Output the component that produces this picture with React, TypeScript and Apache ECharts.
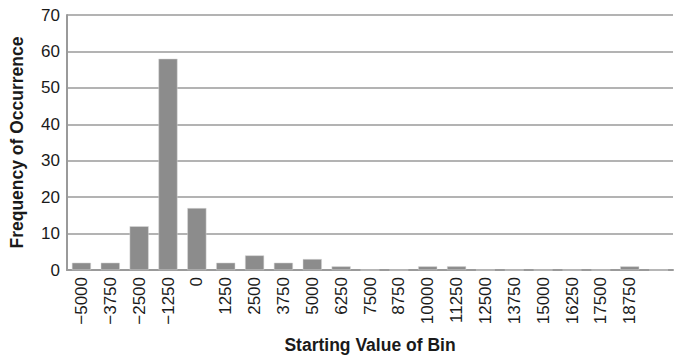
import React, { useEffect, useRef } from "react";
import * as echarts from "echarts";

const binLabels = [
  "−5000", "−3750", "−2500", "−1250", "0", "1250", "2500", "3750", "5000", "6250",
  "7500", "8750", "10000", "11250", "12500", "13750", "15000", "16250", "17500", "18750", "",
];
const frequencies = [2, 2, 12, 58, 17, 2, 4, 2, 3, 1, 0, 0, 1, 1, 0, 0, 0, 0, 0, 1, 0];
const yTicks = { min: 0, max: 70, interval: 10 };

export default function App() {
  const ref = useRef<HTMLDivElement>(null);
  useEffect(() => {
    if (!ref.current) return;
    const chart = echarts.init(ref.current, undefined, { renderer: "svg" });
    const font = "'Liberation Sans', Arial, Helvetica, sans-serif";
    chart.setOption({
      animation: false,
      grid: { left: 67, right: 12, top: 15, bottom: 91, containLabel: false },
      xAxis: {
        type: "category",
        data: binLabels,
        axisTick: { show: false },
        axisLine: { show: true, lineStyle: { color: "#9a9a9a", width: 2 } },
        axisLabel: {
          rotate: 90,
          interval: 0,
          margin: 7,
          color: "#1a1a1a",
          fontSize: 17,
          fontFamily: font,
        },
        name: "Starting Value of Bin",
        nameLocation: "middle",
        nameGap: 66,
        nameTextStyle: { fontSize: 17.5, fontWeight: "bold", color: "#1a1a1a", fontFamily: font },
      },
      yAxis: {
        type: "value",
        min: yTicks.min,
        max: yTicks.max,
        interval: yTicks.interval,
        axisLine: { show: true, lineStyle: { color: "#9a9a9a", width: 2 } },
        axisTick: { show: false },
        splitLine: { show: true, lineStyle: { color: "#9a9a9a", width: 1.5 } },
        axisLabel: { color: "#1a1a1a", fontSize: 17, fontFamily: font, margin: 7 },
        name: "Frequency of Occurrence",
        nameLocation: "middle",
        nameGap: 41,
        nameTextStyle: { fontSize: 17.5, fontWeight: "bold", color: "#1a1a1a", fontFamily: font },
      },
      series: [
        {
          type: "bar",
          data: frequencies,
          barWidth: "66%",
          itemStyle: { color: "#8c8c8c", borderColor: "#d8d8d8", borderWidth: 0.5 },
        },
      ],
    });
    return () => chart.dispose();
  }, []);
  return (
    <div
      ref={ref}
      style={{ position: "fixed", left: 0, top: 0, width: 685, height: 361, background: "#fff" }}
    />
  );
}
